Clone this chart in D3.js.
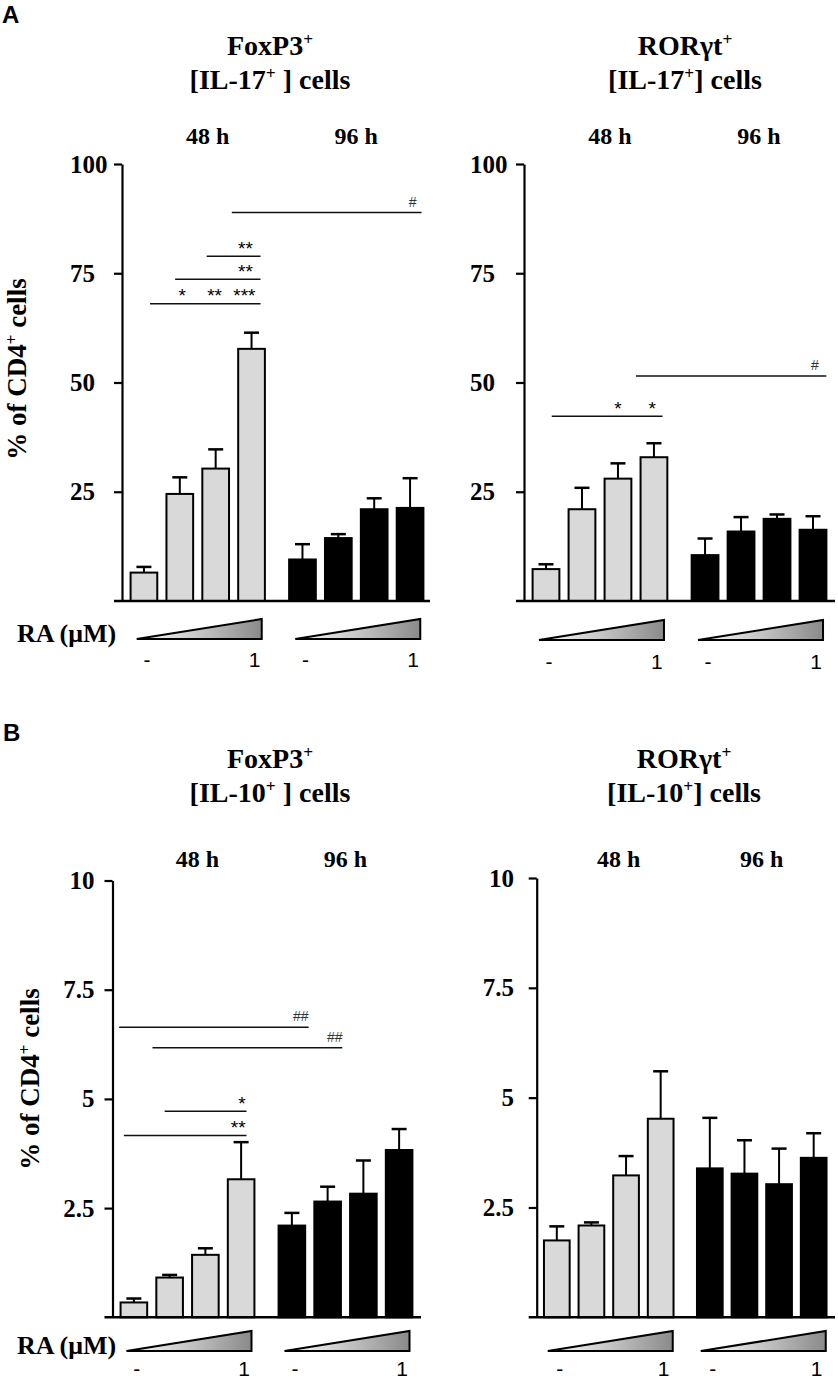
<!DOCTYPE html>
<html>
<head>
<meta charset="utf-8">
<script src="https://cdnjs.cloudflare.com/ajax/libs/d3/7.8.5/d3.min.js"></script>
<style>
  html, body { margin: 0; padding: 0; background: #fff; }
  svg { display: block; }
  .serif { font-family: "Liberation Serif", "Times New Roman", serif; font-weight: bold; }
  .sans { font-family: "Liberation Sans", Arial, sans-serif; }
</style>
</head>
<body>
<svg id="fig" width="838" height="1381"></svg>
<script>
// categories
var timePoints = ['48 h', '96 h']
var doseSteps = [0, 1, 2, 3]
var doseLabels = ['-', '1']
var ticksIL17 = [25, 50, 75, 100]
var ticksIL10 = [2.5, 5, 7.5, 10]

// means and SEM (8 bars: 4 doses at 48 h, then 4 doses at 96 h)
var foxp3Il17Mean = [6.5, 24.5, 30.3, 57.7, 9.5, 14.4, 21.0, 21.3]
var foxp3Il17Sem = [1.3, 3.8, 4.4, 3.7, 3.5, 0.9, 2.5, 6.8]
var rorIl17Mean = [7.3, 21.0, 28.0, 32.9, 10.5, 15.9, 18.8, 16.3]
var rorIl17Sem = [1.1, 4.9, 3.5, 3.2, 3.8, 3.3, 1.0, 3.1]
var foxp3Il10Mean = [0.34, 0.91, 1.43, 3.16, 2.10, 2.65, 2.83, 3.83]
var foxp3Il10Sem = [0.09, 0.06, 0.15, 0.85, 0.29, 0.34, 0.76, 0.48]
var rorIl10Mean = [1.75, 2.09, 3.23, 4.52, 3.39, 3.27, 3.03, 3.63]
var rorIl10Sem = [0.32, 0.07, 0.44, 1.08, 1.15, 0.76, 0.81, 0.56]

// significance brackets: level in data units, span in (fractional) bar index
var foxp3Il17Sig = [
  { level: 88.9, from: 2.45, to: 7.32, marks: [['#', 7.07]] },
  { level: 78.9, from: 1.75, to: 3.25, marks: [['**', 2.83]] },
  { level: 73.6, from: 0.87, to: 3.25, marks: [['**', 2.83]] },
  { level: 68.0, from: 0.17, to: 3.25, marks: [['*', 1.07], ['**', 1.97], ['***', 2.8]] }
]
var rorIl17Sig = [
  { level: 51.5, from: 2.5, to: 7.37, marks: [['#', 7.05]] },
  { level: 42.3, from: 0.16, to: 3.24, marks: [['*', 2.0], ['*', 2.95]] }
]
var foxp3Il10Sig = [
  { level: 6.64, from: -0.41, to: 4.47, marks: [['##', 4.25]] },
  { level: 6.17, from: 0.52, to: 5.41, marks: [['##', 5.2]] },
  { level: 4.72, from: 0.86, to: 3.15, marks: [['*', 3.02]] },
  { level: 4.16, from: -0.28, to: 3.15, marks: [['**', 2.92]] }
]
var rorIl10Sig = []

var svg = d3.select('#fig')

var defs = svg.append('defs')
var grad = defs.append('linearGradient').attr('id', 'wedge')
grad.append('stop').attr('offset', '0%').attr('stop-color', '#ffffff')
grad.append('stop').attr('offset', '100%').attr('stop-color', '#8a8a8a')

var panels = [
  { mean: foxp3Il17Mean, sem: foxp3Il17Sem, sig: foxp3Il17Sig, ticks: ticksIL17, max: 100,
    x0: 126, x1: 428, axisX: 122, lineEnd: 430, yBase: 601, yTop: 164,
    labelX: 70, labelAnchor: 'start',
    title: ['FoxP3', '[IL-17', ' ] cells'], titleX: 270, titleY: 55, timeY: 144,
    ylabel: { x: 26, y: 369 }, ra: { y: 642 }, wedgeY: 639, doseY: 667 },
  { mean: rorIl17Mean, sem: rorIl17Sem, sig: rorIl17Sig, ticks: ticksIL17, max: 100,
    x0: 528, x1: 831, axisX: 524, lineEnd: 835, yBase: 601, yTop: 164,
    labelX: 470, labelAnchor: 'start',
    title: ['RORγt', '[IL-17', '] cells'], titleX: 685, titleY: 55, timeY: 144,
    wedgeY: 640, doseY: 669 },
  { mean: foxp3Il10Mean, sem: foxp3Il10Sem, sig: foxp3Il10Sig, ticks: ticksIL10, max: 10,
    x0: 116, x1: 417, axisX: 112.5, lineEnd: 421, yBase: 1317.3, yTop: 880.5,
    labelX: 94.5, labelAnchor: 'end',
    title: ['FoxP3', '[IL-10', ' ] cells'], titleX: 270, titleY: 768, timeY: 867,
    ylabel: { x: 39, y: 1079 }, ra: { y: 1354 }, wedgeY: 1351, doseY: 1376 },
  { mean: rorIl10Mean, sem: rorIl10Sem, sig: rorIl10Sig, ticks: ticksIL10, max: 10,
    x0: 539.5, x1: 831, axisX: 536.7, lineEnd: 835, yBase: 1317.3, yTop: 878,
    labelX: 514, labelAnchor: 'end',
    title: ['RORγt', '[IL-10', '] cells'], titleX: 684, titleY: 768, timeY: 867,
    wedgeY: 1351, doseY: 1376 }
]

function drawPanel (cfg) {
  var g = svg.append('g')

  var groupX = d3.scaleBand().domain(timePoints).range([cfg.x0, cfg.x1]).paddingInner(0.095)
  var doseX = d3.scaleBand().domain(doseSteps).range([0, groupX.bandwidth()])
    .paddingInner(0.2).paddingOuter(0.1)
  var y = d3.scaleLinear().domain([0, cfg.max]).range([cfg.yBase, cfg.yTop])
  var step = doseX.step()
  var bw = doseX.bandwidth()

  var bars = cfg.mean.map(function (m, i) {
    return { time: timePoints[Math.floor(i / 4)], dose: doseSteps[i % 4], mean: m, sem: cfg.sem[i], i: i }
  })
  function center (i) {
    return groupX(timePoints[Math.floor(i / 4)]) + doseX(doseSteps[i % 4]) + bw / 2
  }
  function xPos (f) {
    var i = Math.max(0, Math.min(7, Math.round(f)))
    return center(i) + (f - i) * step
  }

  // titles
  var t1 = g.append('text').attr('class', 'serif').attr('font-size', 28)
    .attr('text-anchor', 'middle').attr('x', cfg.titleX).attr('y', cfg.titleY)
  t1.append('tspan').text(cfg.title[0])
  t1.append('tspan').attr('font-size', '0.62em').attr('dy', '-0.55em').text('+')
  var t2 = g.append('text').attr('class', 'serif').attr('font-size', 28)
    .attr('text-anchor', 'middle').attr('x', cfg.titleX).attr('y', cfg.titleY + 34)
  t2.append('tspan').text(cfg.title[1])
  t2.append('tspan').attr('font-size', '0.62em').attr('dy', '-0.55em').text('+')
  t2.append('tspan').attr('dy', '0.34em').text(cfg.title[2])

  // time labels
  g.selectAll('.time').data(timePoints).enter().append('text')
    .attr('class', 'serif time').attr('font-size', 24).attr('text-anchor', 'middle')
    .attr('x', function (d, i) { return groupX(d) + groupX.bandwidth() / 2 + (i === 0 ? 10 : 0) })
    .attr('y', cfg.timeY)
    .text(function (d) { return d })

  // bars
  g.selectAll('.bar').data(bars).enter().append('rect')
    .attr('class', 'bar')
    .attr('x', function (d) { return groupX(d.time) + doseX(d.dose) + 1 })
    .attr('width', bw - 2)
    .attr('y', function (d) { return y(d.mean) })
    .attr('height', function (d) { return cfg.yBase - y(d.mean) })
    .attr('fill', function (d) { return d.time === timePoints[0] ? '#d9d9d9' : '#000' })
    .attr('stroke', '#000')
    .attr('stroke-width', 2)

  // error bars
  var eb = g.selectAll('.err').data(bars).enter().append('g').attr('class', 'err')
  eb.append('line')
    .attr('x1', function (d) { return center(d.i) }).attr('x2', function (d) { return center(d.i) })
    .attr('y1', function (d) { return y(d.mean) }).attr('y2', function (d) { return y(d.mean + d.sem) })
    .attr('stroke', '#000').attr('stroke-width', 2)
  eb.append('line')
    .attr('x1', function (d) { return center(d.i) - 7.5 }).attr('x2', function (d) { return center(d.i) + 7.5 })
    .attr('y1', function (d) { return y(d.mean + d.sem) }).attr('y2', function (d) { return y(d.mean + d.sem) })
    .attr('stroke', '#000').attr('stroke-width', 2.5)

  // y axis
  var yAxis = d3.axisLeft(y).tickValues(cfg.ticks).tickSize(8).tickSizeOuter(0)
    .tickFormat(function (d) { return String(d) })
  var ag = g.append('g').attr('transform', 'translate(' + cfg.axisX + ',0)').call(yAxis)
  ag.select('.domain').attr('stroke', '#000').attr('stroke-width', 2.2)
  ag.selectAll('.tick line').attr('stroke', '#000').attr('stroke-width', 2.2)
  ag.selectAll('.tick text')
    .attr('class', 'serif')
    .attr('font-size', 25)
    .attr('fill', '#000')
    .attr('text-anchor', cfg.labelAnchor)
    .attr('x', cfg.labelX - cfg.axisX)

  // baseline
  g.append('line')
    .attr('x1', cfg.axisX - 8).attr('x2', cfg.lineEnd)
    .attr('y1', y(0)).attr('y2', y(0))
    .attr('stroke', '#000').attr('stroke-width', 2.6)

  // significance brackets
  cfg.sig.forEach(function (s) {
    g.append('line')
      .attr('x1', xPos(s.from)).attr('x2', xPos(s.to))
      .attr('y1', y(s.level)).attr('y2', y(s.level))
      .attr('stroke', '#111').attr('stroke-width', 1.5)
    s.marks.forEach(function (m) {
      var hash = m[0].indexOf('#') >= 0
      g.append('text').attr('class', 'sans')
        .attr('font-size', hash ? 14 : 19)
        .attr('fill', hash ? '#333' : '#000')
        .attr('text-anchor', 'middle')
        .attr('x', xPos(m[1]))
        .attr('y', y(s.level) - (hash ? 6 : 1.5))
        .text(m[0])
    })
  })

  // RA dose wedges
  timePoints.forEach(function (t) {
    var gc = groupX(t) + groupX.bandwidth() / 2
    g.append('path')
      .attr('d', 'M' + (gc - 61) + ',' + cfg.wedgeY + 'L' + (gc + 64) + ',' + cfg.wedgeY +
        'L' + (gc + 64) + ',' + (cfg.wedgeY - 20) + 'Z')
      .attr('fill', 'url(#wedge)')
      .attr('stroke', '#000')
      .attr('stroke-width', 2)
      .attr('stroke-linejoin', 'miter')
  })

  // dose labels
  var doseIdx = [0, 3, 4, 7]
  g.selectAll('.dose').data(doseIdx).enter().append('text')
    .attr('class', 'sans dose').attr('font-size', 21).attr('text-anchor', 'middle')
    .attr('x', function (d) { return center(d) + 3 })
    .attr('y', cfg.doseY)
    .text(function (d, i) { return doseLabels[i % 2] })

  if (cfg.ra) {
    g.append('text').attr('class', 'serif').attr('font-size', 26)
      .attr('x', 17).attr('y', cfg.ra.y).text('RA (μM)')
  }
  if (cfg.ylabel) {
    var yl = g.append('text').attr('class', 'serif').attr('font-size', 27)
      .attr('text-anchor', 'middle')
      .attr('transform', 'translate(' + cfg.ylabel.x + ',' + cfg.ylabel.y + ') rotate(-90)')
    yl.append('tspan').text('% of CD4')
    yl.append('tspan').attr('font-size', '0.62em').attr('dy', '-0.55em').text('+')
    yl.append('tspan').attr('dy', '0.34em').text(' cells')
  }
}

panels.forEach(drawPanel)

// panel letters
svg.append('text').attr('class', 'sans').attr('font-weight', 'bold').attr('font-size', 24)
  .attr('x', 2).attr('y', 23).text('A')
svg.append('text').attr('class', 'sans').attr('font-weight', 'bold').attr('font-size', 24)
  .attr('x', 3).attr('y', 741).text('B')
</script>
</body>
</html>
